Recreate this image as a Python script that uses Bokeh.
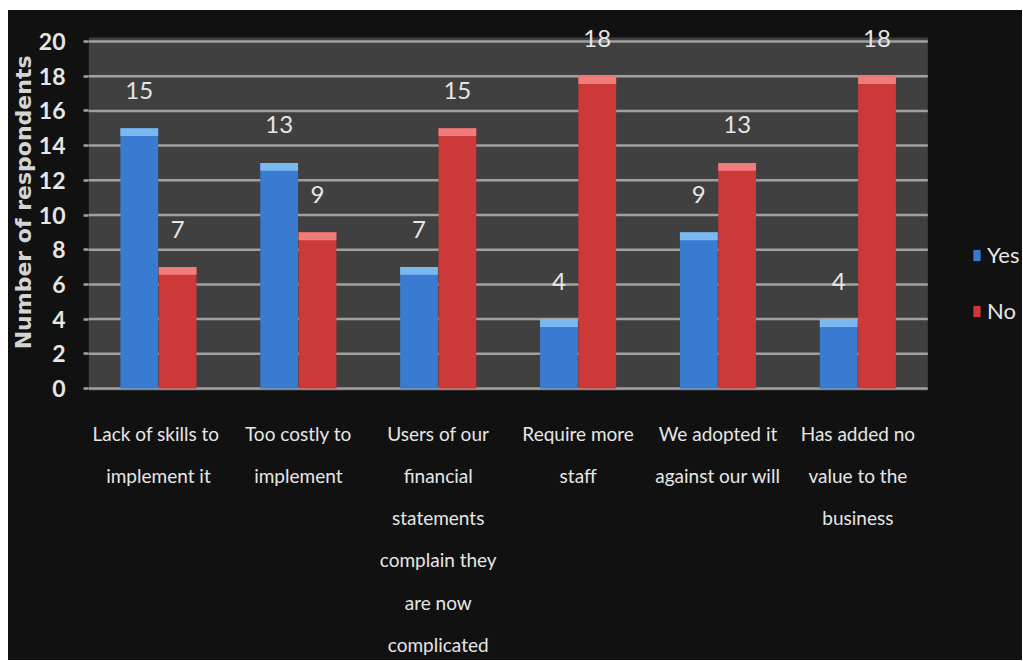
from bokeh.plotting import figure
from bokeh.models import (ColumnDataSource, Range1d, FixedTicker, Legend, LegendItem, Title)
from bokeh.core.properties import value
from bokeh.embed import file_html
from bokeh.resources import INLINE

categories = [
    "Lack  of skills to\nimplement it",
    "Too costly to\nimplement",
    "Users of our\nfinancial\nstatements\ncomplain they\nare now\ncomplicated",
    "Require more\nstaff",
    "We adopted it\nagainst our will",
    "Has added no\nvalue to the\nbusiness",
]
yes = [15, 13, 7, 4, 9, 4]
no = [7, 9, 15, 18, 13, 18]
y_ticks = [0, 2, 4, 6, 8, 10, 12, 14, 16, 18, 20]

BG = "#111111"
FONT = "Lato"
TXT = "#e6e6e6"
n = len(categories)
off = 0.137
w = 0.27

pos = list(range(n))
src = ColumnDataSource(dict(
    cat=categories,
    pos=pos,
    x_yes=[i - off for i in pos], x_no=[i + off for i in pos],
    zero=[0] * n,
    yes=yes, no=no,
    yes_cap=[v - 0.45 for v in yes], no_cap=[v - 0.45 for v in no],
    yes_lab=[str(v) for v in yes], no_lab=[str(v) for v in no],
))
grid_src = ColumnDataSource(dict(y=y_ticks, x0=[-0.5] * len(y_ticks), x1=[n - 0.5] * len(y_ticks)))

p = figure(x_range=Range1d(-0.5, 6.177), y_range=Range1d(-15.677, 21.787),
           width=1014, height=650, output_backend="svg", toolbar_location=None,
           min_border_left=77, min_border_right=0, min_border_top=0, min_border_bottom=0)
p.margin = (10, 0, 0, 8)
p.styles = {"background-color": BG}
p.background_fill_color = BG
p.border_fill_color = BG
p.outline_line_color = None
p.xgrid.visible = False
p.ygrid.visible = False
p.xaxis.visible = False

# gray plot panel
p.quad(left=-0.5, right=n - 0.5, bottom=-0.12, top=20.23,
       fill_color="#404040", line_color=None)
# horizontal gridlines
p.segment(x0="x0", x1="x1", y0="y", y1="y", source=grid_src,
          line_color="#a0a0a0", line_width=2.5)

r_yes = p.vbar(x="x_yes", top="yes", bottom=0, width=w, source=src,
               fill_color="#3a7bd2", line_color=None)
p.vbar(x="x_yes", top="yes", bottom="yes_cap", width=w, source=src,
       fill_color="#7cb8f0", line_color=None)
r_no = p.vbar(x="x_no", top="no", bottom=0, width=w, source=src,
              fill_color="#cd3939", line_color=None)
p.vbar(x="x_no", top="no", bottom="no_cap", width=w, source=src,
       fill_color="#f07c7c", line_color=None)

for xcol, col, lab in (("x_yes", "yes", "yes_lab"), ("x_no", "no", "no_lab")):
    p.text(x=xcol, y=col, text=lab, source=src,
           y_offset=-38, text_align="center", text_baseline="middle",
           text_color=TXT, text_font=value(FONT), text_font_size="24px")

# category labels below the plot panel
p.text(x="pos", y="zero", text="cat", source=src, y_offset=33,
       text_align="center", text_baseline="top", text_color=TXT,
       text_font=value(FONT), text_font_size="19px", text_line_height=1.84)

# y axis
p.yaxis.ticker = FixedTicker(ticks=y_ticks)
p.yaxis.axis_line_color = None
p.yaxis.major_tick_out = 5
p.yaxis.major_tick_in = 0
p.yaxis.major_tick_line_color = "#a0a0a0"
p.yaxis.major_tick_line_width = 2.5
p.yaxis.minor_tick_line_color = None
p.yaxis.major_label_standoff = 18
p.yaxis.major_label_text_font = FONT
p.yaxis.major_label_text_font_style = "bold"
p.yaxis.major_label_text_font_size = "23px"
p.yaxis.major_label_text_color = TXT

p.add_layout(Title(text="Number of respondents", align="right", offset=45, standoff=0,
                   text_font="DejaVu Sans", text_font_style="bold", text_font_size="22px",
                   text_color="#d4d4d4"), "left")

legend = Legend(items=[LegendItem(label="Yes", renderers=[r_yes]),
                       LegendItem(label="No", renderers=[r_no])],
                location=(884, 336), padding=0, margin=0, spacing=29,
                glyph_width=9, glyph_height=14, label_height=14, label_standoff=6,
                background_fill_alpha=0, border_line_color=None,
                label_text_color=TXT, label_text_font=FONT, label_text_font_size="22px")
p.add_layout(legend, "center")

open("out.html", "w").write(file_html(p, INLINE))
